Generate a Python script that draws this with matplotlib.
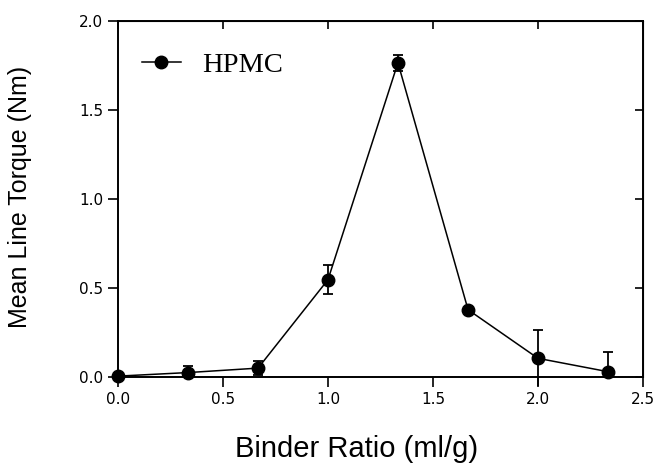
import matplotlib.pyplot as plt

# binder ratio (ml/g) vs mean line torque (Nm)
binder_ratio = [0.0, 0.333, 0.667, 1.0, 1.333, 1.667, 2.0, 2.333]
torque = [0.005, 0.025, 0.05, 0.547, 1.765, 0.378, 0.105, 0.03]
err_low = [0.005, 0.025, 0.037, 0.08, 0.045, 0.0, 0.155, 0.03]
err_high = [0.02, 0.035, 0.04, 0.08, 0.045, 0.0, 0.16, 0.11]

plt.rcParams['font.family'] = ['Liberation Sans', 'DejaVu Sans']

fig = plt.figure(figsize=(6.57, 4.63), dpi=100)
ax = fig.add_axes([0.1796, 0.1857, 0.7991, 0.769])

ax.axhline(0, color='#999999', lw=1.2, ls=(0, (1, 1)), zorder=1)
# error bars clipped at the axes, then the part hanging under zero drawn by hand
ax.errorbar(binder_ratio, torque, yerr=[err_low, err_high], fmt='none',
            ecolor='black', elinewidth=1.3, capsize=3.8, capthick=1.3, zorder=2)
for x, y, lo in zip(binder_ratio, torque, err_low):
    if y - lo < 0:
        ax.vlines(x, y - lo, 0, color='black', lw=1.3, clip_on=False, zorder=2)
ax.plot(binder_ratio, torque, color='black', marker='o', markersize=9,
        lw=1.1, clip_on=False, zorder=3, label='HPMC')

ax.set_xlim(0, 2.5)
ax.set_ylim(0, 2.0)
ax.set_xticks([0, 0.5, 1.0, 1.5, 2.0, 2.5])
ax.set_yticks([0, 0.5, 1.0, 1.5, 2.0])
ax.set_xticklabels(['0.0', '0.5', '1.0', '1.5', '2.0', '2.5'])
ax.set_yticklabels(['0.0', '0.5', '1.0', '1.5', '2.0'])
ax.tick_params(direction='out', length=7, width=1.2, pad=3.5)
for lab in ax.get_xticklabels() + ax.get_yticklabels():
    lab.set_fontfamily('DejaVu Sans')
    lab.set_fontsize(11)

for s in ax.spines.values():
    s.set_linewidth(1.4)

top = ax.secondary_xaxis('top')
top.set_xticks([0, 0.5, 1.0, 1.5, 2.0, 2.5])
top.tick_params(direction='in', length=6, width=1.2, labeltop=False)
right = ax.secondary_yaxis('right')
right.set_yticks([0, 0.5, 1.0, 1.5, 2.0])
right.tick_params(direction='in', length=6, width=1.2, labelright=False)

fig.text(357 / 657, 1 - 449 / 463, 'Binder Ratio (ml/g)', fontsize=21,
         ha='center', va='center')
fig.text(20 / 657, 1 - 197 / 463, 'Mean Line Torque (Nm)', fontsize=18,
         rotation=90, ha='center', va='center')

ax.legend(loc='center left', frameon=False,
          prop={'family': 'Liberation Serif', 'size': 20.5},
          bbox_to_anchor=(0.0457, 0.876), borderpad=0, borderaxespad=0,
          handlelength=1.37, handletextpad=0.74, numpoints=1)

fig.savefig('out.png', dpi=100)
